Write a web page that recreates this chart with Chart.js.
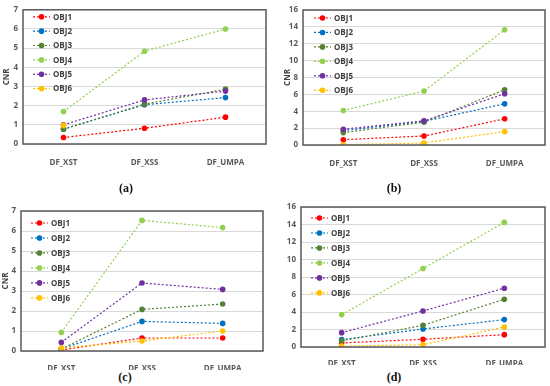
<!DOCTYPE html>
<html>
<head>
<meta charset="utf-8">
<script src="https://cdn.jsdelivr.net/npm/chart.js@4.4.1/dist/chart.umd.min.js"></script>
<style>
  body { margin: 0; background: #fff; width: 550px; height: 386px; position: relative; overflow: hidden; }
  canvas { position: absolute; }
  .cap { position: absolute; font: bold 12px "Liberation Serif", "DejaVu Serif", serif; color: #111; transform: translateX(-50%); }
</style>
</head>
<body>
<canvas id="chartA" width="275" height="170" style="left:0;top:0"></canvas>
<canvas id="chartB" width="275" height="170" style="left:275px;top:0"></canvas>
<canvas id="chartC" width="275" height="175" style="left:0;top:195px"></canvas>
<canvas id="chartD" width="275" height="170" style="left:275px;top:195px"></canvas>
<div class="cap" style="left:126px;top:181px">(a)</div>
<div class="cap" style="left:394px;top:181px">(b)</div>
<div class="cap" style="left:125px;top:370px">(c)</div>
<div class="cap" style="left:394px;top:370px">(d)</div>
<script>
const categories = ['DF_XST', 'DF_XSS', 'DF_UMPA'];
const seriesNames = ['OBJ1', 'OBJ2', 'OBJ3', 'OBJ4', 'OBJ5', 'OBJ6'];
const seriesColors = ['#ff0000', '#0070c0', '#548235', '#92d050', '#7030a0', '#ffc000'];

// CNR values per object, one row per OBJ
const cnrA = [
    [0.34, 0.82, 1.40],
    [0.78, 2.05, 2.42],
    [0.77, 2.08, 2.86],
    [1.69, 4.84, 6.00],
    [1.00, 2.30, 2.76],
    [0.97, null, null]
];
const cnrB = [
    [0.63, 1.07, 3.10],
    [1.70, 2.80, 4.88],
    [1.47, 2.70, 6.55],
    [4.09, 6.39, 13.65],
    [1.87, 2.86, 6.07],
    [0.03, 0.24, 1.59]
];
const cnrC = [
    [0.05, 0.65, 0.65],
    [0.10, 1.48, 1.38],
    [0.10, 2.08, 2.35],
    [0.93, 6.53, 6.17],
    [0.43, 3.40, 3.08],
    [0.15, 0.50, 1.00]
];
const cnrD = [
    [0.46, 0.88, 1.41],
    [0.84, 2.06, 3.13],
    [0.70, 2.48, 5.46],
    [3.70, 8.97, 14.24],
    [1.64, 4.12, 6.72],
    [0.10, 0.27, 2.29]
];

const textColor = '#595959';

// box around plot area + legend inside it
const panelPlugin = {
    id: 'panelDeco',
    afterDraw(chart, args, opts) {
        const ctx = chart.ctx;
        const a = chart.chartArea;
        ctx.save();
        ctx.strokeStyle = '#595959';
        ctx.lineWidth = 1.5;
        ctx.strokeRect(a.left, a.top, a.right - a.left, a.bottom - a.top);

        const step = (a.bottom - a.top) * 0.107;
        chart.data.datasets.forEach((ds, i) => {
            const x0 = a.left + opts.dx;
            const y = a.top + opts.dy + i * step;
            ctx.strokeStyle = ds.borderColor;
            ctx.lineWidth = 1.2;
            ctx.setLineDash([2, 2]);
            ctx.beginPath();
            ctx.moveTo(x0, y);
            ctx.lineTo(x0 + 17, y);
            ctx.stroke();
            ctx.setLineDash([]);
            ctx.fillStyle = ds.borderColor;
            ctx.beginPath();
            ctx.arc(x0 + 8.5, y, 2.8, 0, Math.PI * 2);
            ctx.fill();
            ctx.fillStyle = '#404040';
            ctx.font = 'bold 8px "Open Sans", sans-serif';
            ctx.textBaseline = 'middle';
            ctx.fillText(ds.label, x0 + 20, y + 0.5);
        });
        ctx.restore();
    }
};

function makePanel(id, values, p) {
    const ctx = document.getElementById(id).getContext('2d');
    new Chart(ctx, {
        type: 'line',
        data: {
            labels: categories,
            datasets: seriesNames.map((name, i) => ({
                label: name,
                data: values[i],
                borderColor: seriesColors[i],
                backgroundColor: seriesColors[i],
                borderWidth: 1.2,
                borderDash: [2, 2],
                pointRadius: 2.8,
                pointBorderWidth: 0,
                pointBackgroundColor: seriesColors[i],
                order: 6 - i,
                fill: false
            }))
        },
        options: {
            responsive: false,
            animation: false,
            layout: { padding: { left: 0, top: p.top, right: p.right, bottom: 0 } },
            plugins: {
                legend: { display: false },
                tooltip: { enabled: false },
                panelDeco: { dx: p.ldx, dy: p.ldy }
            },
            scales: {
                x: {
                    offset: true,
                    grid: { display: false },
                    border: { display: false },
                    ticks: { color: textColor, font: { size: 8, weight: 'bold', family: '"Open Sans", sans-serif' }, padding: p.xPad, maxRotation: 0 },
                    afterFit: s => { s.height = p.xH; }
                },
                y: {
                    min: 0,
                    max: p.max,
                    ticks: { stepSize: p.step, color: textColor, font: { size: 8, weight: 'bold', family: '"Open Sans", sans-serif' }, padding: 5 },
                    grid: { color: '#d9d9d9', lineWidth: 1, drawTicks: false },
                    border: { display: false },
                    title: {
                        display: p.title,
                        text: 'CNR',
                        color: '#404040',
                        font: { size: 8, weight: 'bold', family: '"Open Sans", sans-serif' },
                        padding: { top: p.titlePad, bottom: 0 }
                    },
                    afterFit: s => { s.width = p.yW; }
                }
            }
        },
        plugins: [panelPlugin]
    });
}

makePanel('chartA', cnrA, { top: 7, right: 9, yW: 23, xH: 26, xPad: 6, max: 7, step: 1, title: true, titlePad: 2, ldx: 10, ldy: 7 });
makePanel('chartB', cnrB, { top: 10, right: 5, yW: 28, xH: 25, xPad: 6, max: 16, step: 2, title: true, titlePad: 8, ldx: 11, ldy: 8 });
makePanel('chartC', cnrC, { top: 16, right: 12, yW: 21, xH: 19, xPad: 5, max: 7, step: 1, title: true, titlePad: 1, ldx: 10, ldy: 12 });
makePanel('chartD', cnrD, { top: 12, right: 5, yW: 26, xH: 18, xPad: 4, max: 16, step: 2, title: false, titlePad: 0, ldx: 10, ldy: 11 });
</script>
</body>
</html>
